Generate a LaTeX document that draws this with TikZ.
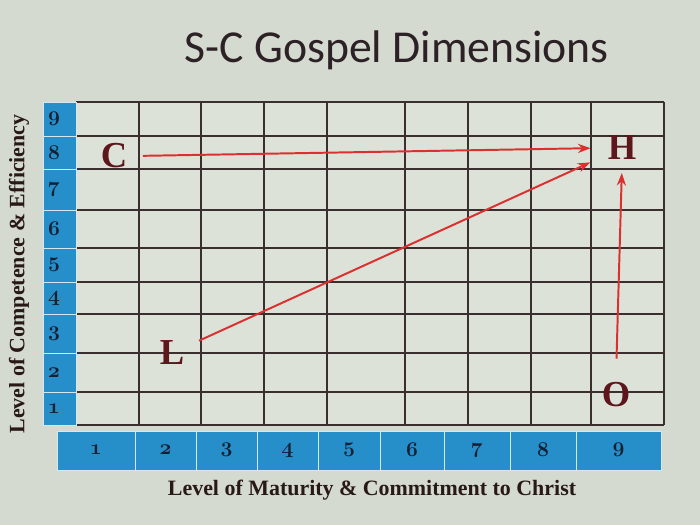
\documentclass[tikz,border=0pt]{standalone}
\usepackage{fontspec}
\newfontfamily\titlefont{Carlito}
\newfontfamily\labelfont{Liberation Serif}
\newfontfamily\oldnums[Numbers=OldStyle]{Latin Modern Roman}
\usetikzlibrary{arrows.meta, positioning}
\definecolor{slidebg}{RGB}{212,218,208}
\definecolor{cellbg}{RGB}{221,226,217}
\definecolor{gridrule}{RGB}{58,46,46}
\definecolor{axisblue}{RGB}{38,142,200}
\definecolor{markred}{RGB}{220,48,48}
\definecolor{lettermaroon}{RGB}{92,22,28}
\definecolor{labelink}{RGB}{40,24,24}
\definecolor{numink}{RGB}{22,32,52}
\definecolor{titleink}{RGB}{44,34,38}

\tikzset{
  gridline/.style={draw=gridrule, line width=1pt},
  axiscell/.style={fill=axisblue, draw=white!80!axisblue, line width=0.6pt},
  axisnum/.style={text=numink, font=\oldnums\bfseries\fontsize{15}{15}\selectfont, inner sep=1pt},
  letter/.style={text=lettermaroon, font=\labelfont\bfseries\fontsize{26}{26}\selectfont, inner sep=4pt},
  move/.style={draw=markred, line width=1.4pt, -{Stealth[length=9pt, width=6.5pt]}},
  axislabel/.style={text=labelink, font=\labelfont\bfseries\fontsize{15.6}{16}\selectfont}
}

\begin{document}
\begin{tikzpicture}[x=0.025cm, y=-0.025cm]
  \useasboundingbox (0,0) rectangle (700,525);
  \fill[slidebg] (0,0) rectangle (700,525);

  % title
  \node[text=titleink, font=\titlefont\fontsize{32.5}{33}\selectfont] (title) at (397,50) {S-C Gospel Dimensions};

  % grid
  \fill[cellbg] (76,102) rectangle (664,425);
  \foreach \gx in {76,139,201,264,327,405,468,531,591,664}
    \draw[gridline] (\gx,102) -- (\gx,425);
  \foreach \gy in {102,136,169,210,248,282,314,353,392,425}
    \draw[gridline] (76,\gy) -- (664,\gy);

  % vertical scale
  \foreach \ya/\yb/\n in {102/136/9, 136/169/8, 169/210/7, 210/248/6, 248/282/5, 282/314/4, 314/353/3, 353/392/2, 392/425/1} {
    \draw[axiscell] (43,\ya) rectangle (76,\yb);
    \node[axisnum] (y\n) at (54,{(\ya+\yb)/2}) {\n};
  }

  % horizontal scale
  \foreach \xa/\xb/\n in {57/135/1, 135/196/2, 196/257/3, 257/318/4, 318/380/5, 380/444/6, 444/510/7, 510/576/8, 576/661/9} {
    \draw[axiscell] (\xa,431) rectangle (\xb,470);
    \node[axisnum] (x\n) at ({(\xa+\xb)/2},450) {\n};
  }

  % axis labels
  \node[axislabel, rotate=90] (ylabel) at (19,274) {Level of Competence \& Efficiency};
  \node[axislabel] (xlabel) at (372,490) {Level of Maturity \& Commitment to Christ};

  % positions
  \node[letter] (C) at (114,156) {C};
  \node[letter] (H) at (622,148) {H};
  \node[letter] (L) at (172,353) {L};
  \node[letter] (O) at (616,395) {O};

  \draw[move, shorten <=7pt, shorten >=8pt] (C.east) -- (H.west);
  \draw[move, shorten <=7pt, shorten >=9pt] (L) -- (H);
  \draw[move, shorten <=13pt, shorten >=5pt] (O.north) -- (H.south);
\end{tikzpicture}
\end{document}
